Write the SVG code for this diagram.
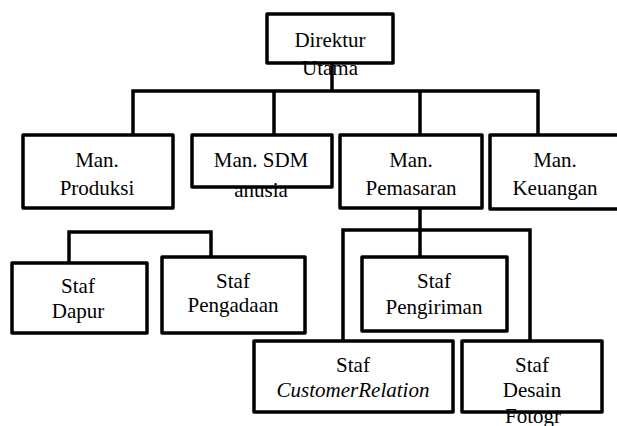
<svg xmlns="http://www.w3.org/2000/svg" width="617" height="426" viewBox="0 0 617 426">
<style>
.box{fill:#fff;stroke:#000;stroke-width:3.5;stroke-linejoin:round}
.ln{fill:none;stroke:#000;stroke-width:3.5;stroke-linejoin:miter}
text{font-family:"Liberation Serif","Times New Roman",serif;font-size:21px;fill:#000;text-anchor:middle}
.it{font-style:italic}
</style>
<rect width="617" height="426" fill="#fff"/>
<g id="connectors">
<path class="ln" d="M332 63V91M133 135V91H538V135M274 91V135M420 91V135"/>
<path class="ln" d="M420 208V257M343 341V230H530V341"/>
<path class="ln" d="M69 263V232H211V257"/>
</g>
<g id="direktur">
<rect class="box" x="267" y="14" width="126" height="49"/>
<text x="330" y="47">Direktur</text>
<text x="330" y="75">Utama</text>
</g>
<g id="man-produksi">
<rect class="box" x="23" y="135" width="150" height="73"/>
<text x="97" y="167">Man.</text>
<text x="97" y="195">Produksi</text>
</g>
<g id="man-sdm">
<rect class="box" x="192" y="135" width="140" height="52"/>
<text x="261" y="167">Man. SDM</text>
<text x="261" y="197">anusia</text>
</g>
<g id="man-pemasaran">
<rect class="box" x="340" y="135" width="142" height="73"/>
<text x="411" y="167">Man.</text>
<text x="411" y="195">Pemasaran</text>
</g>
<g id="man-keuangan">
<rect class="box" x="490" y="135" width="132" height="74"/>
<text x="555" y="167">Man.</text>
<text x="555" y="195">Keuangan</text>
</g>
<g id="staf-dapur">
<rect class="box" x="12" y="263" width="135" height="70"/>
<text x="78" y="293">Staf</text>
<text x="78" y="318">Dapur</text>
</g>
<g id="staf-pengadaan">
<rect class="box" x="162" y="257" width="143" height="76"/>
<text x="233" y="288">Staf</text>
<text x="233" y="312">Pengadaan</text>
</g>
<g id="staf-pengiriman">
<rect class="box" x="362" y="257" width="145" height="74"/>
<text x="434" y="288">Staf</text>
<text x="434" y="314">Pengiriman</text>
</g>
<g id="staf-customer-relation">
<rect class="box" x="254" y="341" width="199" height="71"/>
<text x="353" y="372">Staf</text>
<text class="it" x="353" y="397">CustomerRelation</text>
</g>
<g id="staf-desain">
<rect class="box" x="462" y="341" width="140" height="71"/>
<text x="532" y="372">Staf</text>
<text x="532" y="397">Desain</text>
<text x="533" y="423">Fotogr</text>
</g>
</svg>
